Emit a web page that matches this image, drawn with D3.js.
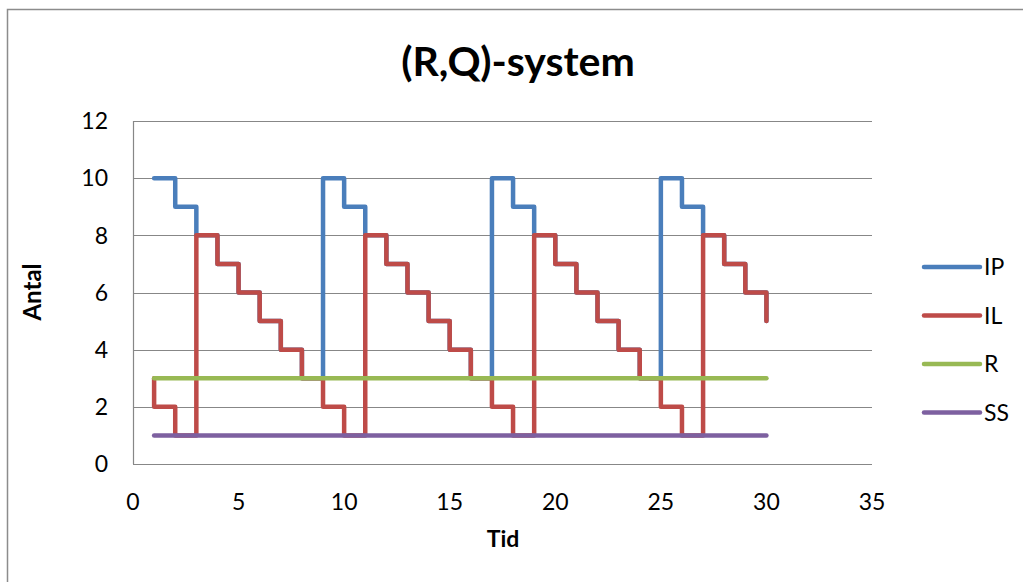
<!DOCTYPE html>
<html>
<head>
<meta charset="utf-8">
<script src="https://cdn.jsdelivr.net/npm/d3@7"></script>
<style>
  body { margin: 0; background: #fff; }
  text { font-family: Lato, "Open Sans", sans-serif; fill: #000; }
</style>
</head>
<body>
<div class="chart"></div>
<script>
// time points 1..30; level before t=1 is the first entry of each series
const tid = [1, 2, 3, 4, 5, 6, 7, 8, 9, 10, 11, 12, 13, 14, 15,
  16, 17, 18, 19, 20, 21, 22, 23, 24, 25, 26, 27, 28, 29, 30];

// inventory position (start value, then value after each time point)
const ipStart = 10;
const ipValues = [10, 9, 8, 7, 6, 5, 4, 3, 10, 9, 8, 7, 6, 5, 4,
  3, 10, 9, 8, 7, 6, 5, 4, 3, 10, 9, 8, 7, 6, 5];

// inventory level
const ilStart = 3;
const ilValues = [2, 1, 8, 7, 6, 5, 4, 3, 2, 1, 8, 7, 6, 5, 4,
  3, 2, 1, 8, 7, 6, 5, 4, 3, 2, 1, 8, 7, 6, 5];

// reorder point and safety stock
const rValues = [3, 3, 3, 3, 3, 3, 3, 3, 3, 3, 3, 3, 3, 3, 3,
  3, 3, 3, 3, 3, 3, 3, 3, 3, 3, 3, 3, 3, 3, 3];
const ssValues = [1, 1, 1, 1, 1, 1, 1, 1, 1, 1, 1, 1, 1, 1, 1,
  1, 1, 1, 1, 1, 1, 1, 1, 1, 1, 1, 1, 1, 1, 1];

const xTicks = [0, 5, 10, 15, 20, 25, 30, 35];
const yTicks = [0, 2, 4, 6, 8, 10, 12];

const seriesNames = ["IP", "IL", "R", "SS"];
const seriesColors = ["#4a7ebb", "#be4b48", "#98b954", "#7d60a0"];

const width = 1023;
const height = 582;
const plot = { left: 133, right: 872, top: 121, bottom: 464 };

const x = d3.scaleLinear().domain([0, 35]).range([plot.left, plot.right]);
const y = d3.scaleLinear().domain([0, 12]).range([plot.bottom, plot.top]);

// step series: vertical change at each time point, flat in between
function stepPoints(start, values) {
  const pts = [];
  let prev = start;
  tid.forEach((t, i) => {
    pts.push([t, prev]);
    pts.push([t, values[i]]);
    prev = values[i];
  });
  return pts;
}

function flatPoints(values) {
  return tid.map((t, i) => [t, values[i]]);
}

const seriesData = [
  stepPoints(ipStart, ipValues),
  stepPoints(ilStart, ilValues),
  flatPoints(rValues),
  flatPoints(ssValues),
];

const svg = d3
  .select(".chart")
  .append("svg")
  .attr("width", width)
  .attr("height", height);

// chart border
svg
  .append("rect")
  .attr("x", 7.5)
  .attr("y", 9.5)
  .attr("width", 1040)
  .attr("height", 600)
  .attr("fill", "none")
  .attr("stroke", "#8c8c8c")
  .attr("stroke-width", 1.5);

// gridlines
svg
  .append("g")
  .selectAll("line")
  .data(yTicks.filter((d) => d > 0))
  .join("line")
  .attr("x1", plot.left)
  .attr("x2", plot.right)
  .attr("y1", (d) => Math.round(y(d)) + 0.5)
  .attr("y2", (d) => Math.round(y(d)) + 0.5)
  .attr("stroke", "#878787")
  .attr("stroke-width", 1.2);

// axes lines
svg
  .append("line")
  .attr("x1", plot.left + 0.5)
  .attr("x2", plot.left + 0.5)
  .attr("y1", plot.top)
  .attr("y2", plot.bottom)
  .attr("stroke", "#878787")
  .attr("stroke-width", 1.2);
svg
  .append("line")
  .attr("x1", plot.left)
  .attr("x2", plot.right)
  .attr("y1", plot.bottom + 0.5)
  .attr("y2", plot.bottom + 0.5)
  .attr("stroke", "#878787")
  .attr("stroke-width", 1.2);

// tick labels
svg
  .append("g")
  .selectAll("text")
  .data(yTicks)
  .join("text")
  .attr("x", 108)
  .attr("y", (d) => y(d))
  .attr("dy", "0.36em")
  .attr("text-anchor", "end")
  .style("font-size", "23px")
  .text((d) => d);

svg
  .append("g")
  .selectAll("text")
  .data(xTicks)
  .join("text")
  .attr("x", (d) => x(d))
  .attr("y", 510)
  .attr("text-anchor", "middle")
  .style("font-size", "23px")
  .text((d) => d);

// series lines
const line = d3
  .line()
  .x((d) => x(d[0]))
  .y((d) => y(d[1]));

svg
  .append("g")
  .selectAll("path")
  .data(seriesData)
  .join("path")
  .attr("d", line)
  .attr("fill", "none")
  .attr("stroke", (d, i) => seriesColors[i])
  .attr("stroke-width", 4.5)
  .attr("stroke-linecap", "round")
  .attr("stroke-linejoin", "round");

// title and axis titles
svg
  .append("text")
  .attr("x", 518)
  .attr("y", 76)
  .attr("text-anchor", "middle")
  .style("font-size", "41px")
  .style("font-weight", "bold")
  .text("(R,Q)-system");

svg
  .append("text")
  .attr("x", 503)
  .attr("y", 547)
  .attr("text-anchor", "middle")
  .style("font-size", "23px")
  .style("font-weight", "bold")
  .text("Tid");

svg
  .append("text")
  .attr("transform", "translate(41,292) rotate(-90)")
  .attr("text-anchor", "middle")
  .style("font-size", "24px")
  .style("font-weight", "bold")
  .text("Antal");

// legend
const legend = svg
  .append("g")
  .selectAll("g")
  .data(seriesNames)
  .join("g")
  .attr("transform", (d, i) => `translate(924,${267 + i * 48.5})`);

legend
  .append("line")
  .attr("x1", 0)
  .attr("x2", 56)
  .attr("stroke", (d, i) => seriesColors[i])
  .attr("stroke-width", 4.5)
  .attr("stroke-linecap", "round");

legend
  .append("text")
  .attr("x", 60)
  .attr("dy", "0.36em")
  .style("font-size", "23px")
  .text((d) => d);
</script>
</body>
</html>
